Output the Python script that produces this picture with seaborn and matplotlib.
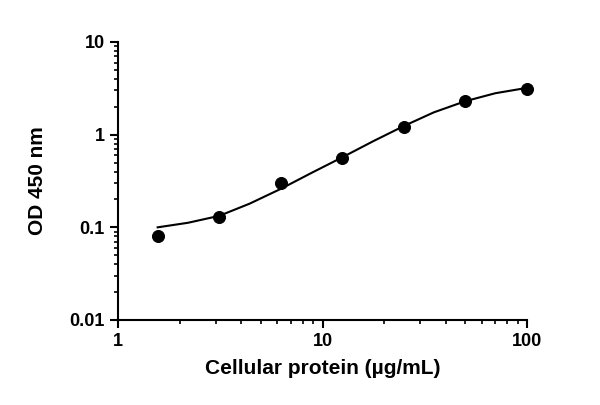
import matplotlib
matplotlib.use("Agg")
import matplotlib.pyplot as plt
import seaborn as sns
import pandas as pd
from matplotlib.ticker import LogLocator, FixedLocator, FixedFormatter

conc = [1.5625, 3.125, 6.25, 12.5, 25, 50, 100]
od = [0.08, 0.13, 0.30, 0.56, 1.2, 2.3, 3.1]
fit_x = [1.5625, 2.2, 3.125, 4.4, 6.25, 8.8, 12.5, 17.7, 25, 35, 50, 70, 100]
fit_y = [0.100, 0.112, 0.133, 0.18, 0.26, 0.385, 0.57, 0.85, 1.24, 1.74, 2.3, 2.8, 3.2]
xticks = [1, 10, 100]
xticklabels = ["1", "10", "100"]
yticks = [0.01, 0.1, 1, 10]
yticklabels = ["0.01", "0.1", "1", "10"]

plt.rcParams["font.family"] = "Liberation Sans"
plt.rcParams["font.weight"] = "bold"
fig = plt.figure(figsize=(6, 4.05), dpi=100)
ax = fig.add_axes([118/600, 1-320/405, (527-118)/600, (320-42)/405])
sns.lineplot(x=fit_x, y=fit_y, ax=ax, color="black", linewidth=1.5)
sns.scatterplot(x=conc, y=od, ax=ax, color="black", s=75, edgecolor="black", zorder=3, clip_on=False)
ax.set_xscale("log"); ax.set_yscale("log")
ax.set_xlim(1, 100); ax.set_ylim(0.01, 10)
ax.xaxis.set_major_locator(FixedLocator(xticks)); ax.xaxis.set_major_formatter(FixedFormatter(xticklabels))
ax.yaxis.set_major_locator(FixedLocator(yticks)); ax.yaxis.set_major_formatter(FixedFormatter(yticklabels))
ax.xaxis.set_minor_locator(LogLocator(base=10, subs=range(2, 10)))
ax.yaxis.set_minor_locator(LogLocator(base=10, subs=range(2, 10)))
for s in ["top", "right"]:
    ax.spines[s].set_visible(False)
for s in ["left", "bottom"]:
    ax.spines[s].set_linewidth(1.5)
ax.tick_params(which="major", length=6, width=1.5, labelsize=13)
ax.tick_params(which="minor", length=3, width=1.2)
for t in ax.get_xticklabels() + ax.get_yticklabels():
    t.set_fontweight("bold")
ax.set_xlabel("Cellular protein (µg/mL)", fontsize=15, fontweight="bold", labelpad=6)
ax.set_ylabel("OD 450 nm", fontsize=15, fontweight="bold", labelpad=16)
fig.savefig("out.png", dpi=100)
